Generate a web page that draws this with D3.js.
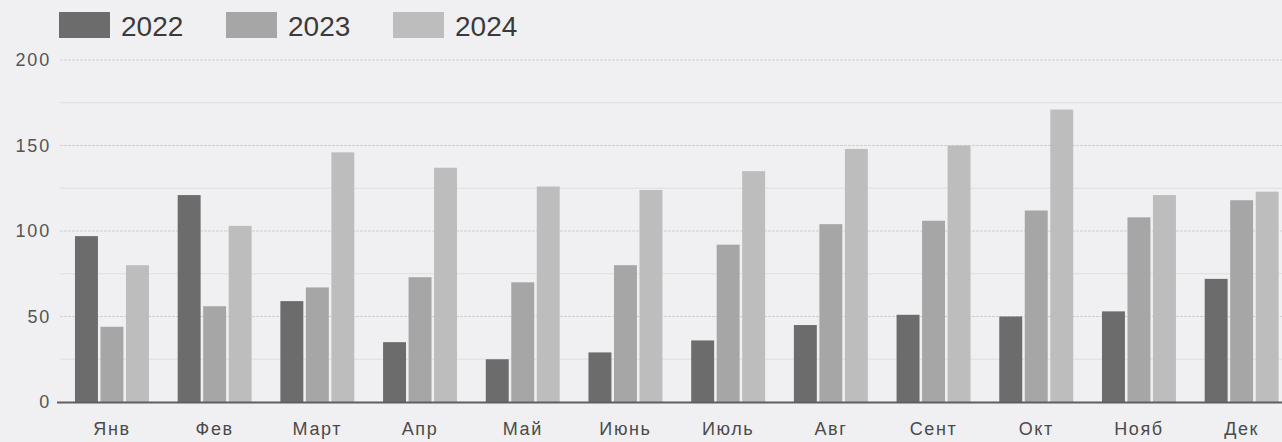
<!DOCTYPE html>
<html>
<head>
<meta charset="utf-8">
<script src="https://cdn.jsdelivr.net/npm/d3@7/dist/d3.min.js"></script>
<style>
  html, body { margin: 0; padding: 0; background: #f0f0f2; overflow: hidden; }
  svg { display: block; }
</style>
</head>
<body>
<svg id="chart" width="1282" height="442"></svg>
<script>
const months = ["Янв", "Фев", "Март", "Апр", "Май", "Июнь", "Июль", "Авг", "Сент", "Окт", "Нояб", "Дек"];
const seriesNames = ["2022", "2023", "2024"];
const values2022 = [97, 121, 59, 35, 25, 29, 36, 45, 51, 50, 53, 72];
const values2023 = [44, 56, 67, 73, 70, 80, 92, 104, 106, 112, 108, 118];
const values2024 = [80, 103, 146, 137, 126, 124, 135, 148, 150, 171, 121, 123];
const yTicks = [0, 50, 100, 150, 200];
const yGrid = [25, 75, 125, 175];
const colors = ["#6c6c6c", "#a6a6a6", "#bdbdbd"];

const series = [values2022, values2023, values2024];
const svg = d3.select("#chart");

svg.append("rect").attr("width", 1282).attr("height", 442).attr("fill", "#f0f0f2");

const x0 = d3.scaleBand().domain(months).range([60.6, 1293]).paddingInner(0.28).paddingOuter(0.14);
const x1 = d3.scaleBand().domain(seriesNames).range([0, x0.bandwidth()]).paddingInner(0.1);
const y = d3.scaleLinear().domain([0, 200]).range([402, 60]);

// minor gridlines
svg.append("g").selectAll("line").data(yGrid).join("line")
  .attr("x1", 60).attr("x2", 1282)
  .attr("y1", d => y(d)).attr("y2", d => y(d))
  .attr("stroke", "#dedee0").attr("stroke-width", 1);

// major gridlines
svg.append("g").selectAll("line").data(yTicks.filter(d => d > 0)).join("line")
  .attr("x1", 60).attr("x2", 1282)
  .attr("y1", d => y(d)).attr("y2", d => y(d))
  .attr("stroke", "#cfcfd1").attr("stroke-width", 1.2)
  .attr("stroke-dasharray", "3,1");

// bars
const groups = svg.append("g").selectAll("g").data(months).join("g")
  .attr("transform", d => `translate(${x0(d)},0)`);

groups.selectAll("rect").data((m, i) => seriesNames.map((s, k) => ({ s, v: series[k][i], k })))
  .join("rect")
  .attr("x", d => x1(d.s))
  .attr("width", x1.bandwidth())
  .attr("y", d => y(d.v))
  .attr("height", d => y(0) - y(d.v))
  .attr("fill", d => colors[d.k]);

// x axis line
svg.append("line").attr("x1", 57).attr("x2", 1282).attr("y1", y(0) + 0.5).attr("y2", y(0) + 0.5)
  .attr("stroke", "#5e5e60").attr("stroke-width", 2);

// y tick labels
const yAxis = d3.axisLeft(y).tickValues(yTicks).tickSize(0).tickPadding(0);
const gy = svg.append("g").attr("transform", "translate(51,0)").call(yAxis);
gy.select(".domain").remove();
gy.selectAll("text")
  .attr("font-family", "Liberation Sans, Arial, sans-serif")
  .attr("font-size", 18)
  .attr("letter-spacing", 1.8)
  .attr("fill", "#555");

// x tick labels
const xAxis = d3.axisBottom(x0).tickSize(0).tickPadding(0);
const gx = svg.append("g").attr("transform", "translate(0,422)").call(xAxis);
gx.select(".domain").remove();
gx.selectAll("text")
  .attr("font-family", "Liberation Sans, Arial, sans-serif")
  .attr("font-size", 18)
  .attr("letter-spacing", 1.6)
  .attr("fill", "#4a4a4a");

// legend
const legend = svg.append("g").selectAll("g").data(seriesNames).join("g")
  .attr("transform", (d, i) => `translate(${59 + i * 167},12)`);
legend.append("rect").attr("width", 51).attr("height", 26).attr("fill", (d, i) => colors[i]);
legend.append("text").attr("x", 62).attr("y", 23.5)
  .attr("font-family", "Liberation Sans, Arial, sans-serif")
  .attr("font-size", 28)
  .attr("fill", "#3a3a3a")
  .text(d => d);
</script>
</body>
</html>
